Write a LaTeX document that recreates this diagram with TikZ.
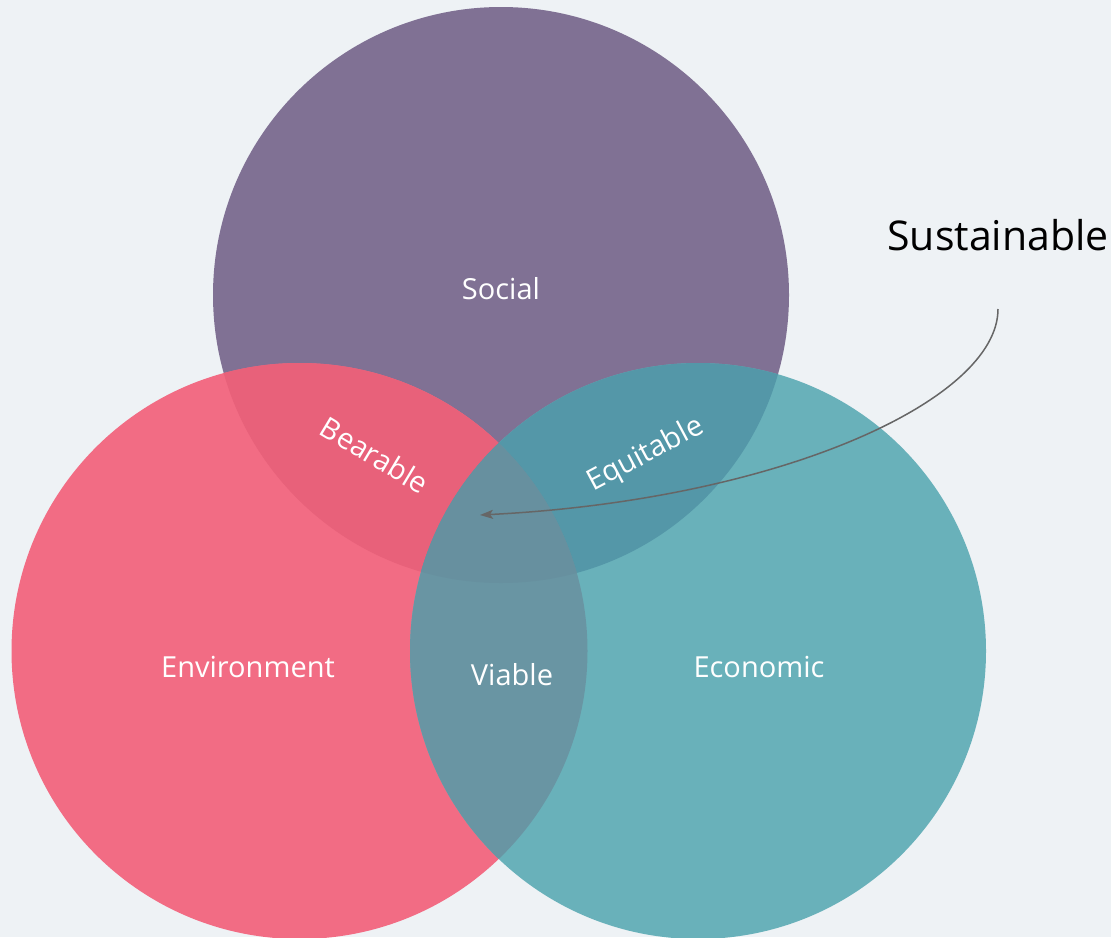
\documentclass[tikz,border=0pt]{standalone}
\usepackage{fontspec}
\setmainfont{Open Sans}
\usetikzlibrary{arrows.meta}
\definecolor{bgc}{HTML}{EEF2F5}
\definecolor{socc}{HTML}{807194}
\definecolor{envc}{HTML}{F26C84}
\definecolor{ecoc}{HTML}{69B1BA}
\definecolor{secc}{HTML}{E8617A}
\definecolor{scoc}{HTML}{5497A8}
\definecolor{eecc}{HTML}{6995A3}
\definecolor{tric}{HTML}{67909F}
\definecolor{arrc}{HTML}{666666}
\tikzset{
  setc/.style={circle, minimum size=576pt, inner sep=0pt, draw=none},
  lbl/.style={text=white, font=\fontsize{29}{32}\selectfont, inner sep=0pt},
  sustlbl/.style={text=black, font=\fontsize{41}{46}\selectfont, inner sep=0pt},
  conn/.style={draw=arrc, line width=1.5pt, -{Stealth[length=13pt, width=9pt, inset=3pt]}}
}
\begin{document}
\begin{tikzpicture}[x=1pt, y=-1pt]
\fill[bgc] (0,0) rectangle (1111,937);
\useasboundingbox (0,0) rectangle (1111,937);
\coordinate (cS) at (501,295);
\coordinate (cE) at (299.5,651);
\coordinate (cC) at (698,651);
\node[setc, fill=socc] (social) at (cS) {};
\node[setc, fill=envc] (env) at (cE) {};
\node[setc, fill=ecoc] (eco) at (cC) {};
\begin{scope}
  \clip (cS) circle[radius=288pt];
  \fill[secc] (cE) circle[radius=288pt];
  \fill[scoc] (cC) circle[radius=288pt];
\end{scope}
\begin{scope}
  \clip (cE) circle[radius=288pt];
  \fill[eecc] (cC) circle[radius=288pt];
  \clip (cS) circle[radius=288pt];
  \fill[tric] (cC) circle[radius=288pt];
\end{scope}
\node[lbl] (tsocial) at (501,289) {Social};
\node[lbl] (tenv) at (248,667) {Environment};
\node[lbl] (tviable) at (512,675) {Viable};
\node[lbl] (teco) at (759,667) {Economic};
\node[lbl, rotate=-31] (tbear) at (375,455) {Bearable};
\node[lbl, rotate=28] (tequi) at (646,455) {Equitable};
\node[sustlbl] (tsust) at (998,235) {Sustainable};
\coordinate (astart) at (998,309);
\coordinate (aend) at (480,515);
\draw[conn] (astart) .. controls (998,400) and (780,500) .. (aend);
\end{tikzpicture}
\end{document}
